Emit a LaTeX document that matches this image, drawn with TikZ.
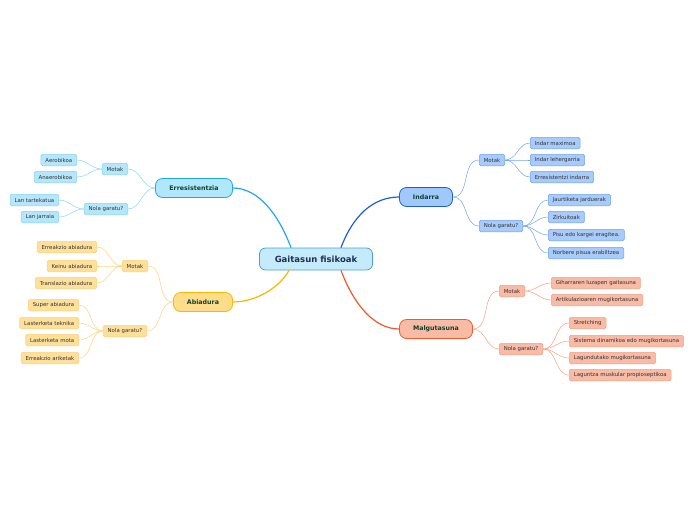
\documentclass[tikz,border=0pt]{standalone}
\usepackage{fontspec}
\setmainfont{DejaVu Sans}
\usepackage{xcolor}
\usetikzlibrary{positioning}

\definecolor{rootfill}{HTML}{C5EBFB}
\definecolor{rootline}{HTML}{4A9FD8}
\definecolor{roottext}{HTML}{1B2F55}
\definecolor{topictext}{HTML}{11402F}
\definecolor{leaftext}{HTML}{333333}
\definecolor{indfill}{HTML}{A0C8FA}
\definecolor{indline}{HTML}{1E5FCE}
\definecolor{indlfill}{HTML}{A8CBFB}
\definecolor{indlline}{HTML}{6FA3F0}
\definecolor{errfill}{HTML}{B0E7FB}
\definecolor{errline}{HTML}{1FA8EA}
\definecolor{errlfill}{HTML}{B5E6FB}
\definecolor{errlline}{HTML}{86D3F6}
\definecolor{abifill}{HTML}{FEDD8A}
\definecolor{abiline}{HTML}{F6B800}
\definecolor{abilfill}{HTML}{FEE09A}
\definecolor{abilline}{HTML}{FCD27A}
\definecolor{malfill}{HTML}{F9BBA6}
\definecolor{malline}{HTML}{EE5A2B}
\definecolor{mallfill}{HTML}{F9BBA6}
\definecolor{mallline}{HTML}{F4A084}

\begin{document}
\begin{tikzpicture}[
  x=1pt, y=-1pt,
  font=\fontsize{5.4}{6.5}\selectfont,
  root/.style={draw=rootline, fill=rootfill, line width=0.8pt, rounded corners=6pt,
               minimum width=113pt, minimum height=22pt, text=roottext,
               font=\fontsize{8.5}{10}\selectfont\bfseries},
  topic/.style={line width=0.8pt, rounded corners=7pt, minimum height=19pt,
                text=topictext, font=\fontsize{6.3}{8}\selectfont\bfseries},
  leaf/.style={line width=0.5pt, rounded corners=1.5pt, minimum height=11.5pt,
               inner xsep=4.5pt, inner ysep=1pt, text=leaftext},
  ind/.style={draw=indline, fill=indfill},
  err/.style={draw=errline, fill=errfill},
  abi/.style={draw=abiline, fill=abifill},
  mal/.style={draw=malline, fill=malfill},
  indl/.style={leaf, draw=indlline, fill=indlfill},
  errl/.style={leaf, draw=errlline, fill=errlfill},
  abil/.style={leaf, draw=abilline, fill=abilfill},
  mall/.style={leaf, draw=mallline, fill=mallfill},
  indc/.style={draw=indlline, line width=0.5pt},
  errc/.style={draw=errlline, line width=0.5pt},
  abic/.style={draw=abilline, line width=0.5pt},
  malc/.style={draw=mallline, line width=0.5pt}
]
\useasboundingbox (0,0) rectangle (696,520);

% centre and main topics
\node[root] (root) at (316,259) {Gaitasun fisikoak};
\node[topic, ind, minimum width=53pt] (ind) at (426,197) {Indarra};
\node[topic, err, minimum width=77pt] (err) at (194,188) {Erresistentzia};
\node[topic, abi, minimum width=59pt] (abi) at (203,302) {Abiadura};
\node[topic, mal, minimum width=73pt] (mal) at (436,329) {Malgutasuna};

\draw[indline, line width=1.2pt] ([xshift=25pt]root.north) .. controls +(12,-32) and +(-26,0) .. (ind.west);
\draw[errline, line width=1.2pt] ([xshift=-25pt]root.north) .. controls +(-12,-32) and +(26,0) .. (err.east);
\draw[abiline, line width=1.2pt] ([xshift=-27pt]root.south) .. controls +(-10,18) and +(22,0) .. (abi.east);
\draw[malline, line width=1.2pt] ([xshift=25pt]root.south) .. controls +(12,32) and +(-26,0) .. (mal.west);

% Indarra
\node[indl, anchor=west] (ind-mot)  at (479,160) {Motak};
\node[indl, anchor=west] (ind-nola) at (479,226) {Nola garatu?};
\node[indl, anchor=west] (ind-m1) at (530,143) {Indar maximoa};
\node[indl, anchor=west] (ind-m2) at (530,160) {Indar lehergarria};
\node[indl, anchor=west] (ind-m3) at (530,177) {Erresistentzi indarra};
\node[indl, anchor=west] (ind-n1) at (548,200) {Jaurtiketa jarduerak};
\node[indl, anchor=west] (ind-n2) at (548,217) {Zirkuitoak};
\node[indl, anchor=west] (ind-n3) at (548,235) {Pisu edo kargei eragitea.};
\node[indl, anchor=west] (ind-n4) at (548,253) {Norbere pisua erabiltzea};

\draw[indc] (ind.east) to[out=0, in=180] (ind-mot.west);
\draw[indc] (ind.east) to[out=0, in=180] (ind-nola.west);
\draw[indc] (ind-mot.east) to[out=0, in=180] (ind-m1.west);
\draw[indc] (ind-mot.east) to[out=0, in=180] (ind-m2.west);
\draw[indc] (ind-mot.east) to[out=0, in=180] (ind-m3.west);
\draw[indc] (ind-nola.east) to[out=0, in=180] (ind-n1.west);
\draw[indc] (ind-nola.east) to[out=0, in=180] (ind-n2.west);
\draw[indc] (ind-nola.east) to[out=0, in=180] (ind-n3.west);
\draw[indc] (ind-nola.east) to[out=0, in=180] (ind-n4.west);

% Erresistentzia
\node[errl, anchor=east] (err-mot)  at (128,169) {Motak};
\node[errl, anchor=east] (err-nola) at (128,209) {Nola garatu?};
\node[errl, anchor=east] (err-m1) at (77,160) {Aerobikoa};
\node[errl, anchor=east] (err-m2) at (77,177) {Anaerobikoa};
\node[errl, anchor=east] (err-n1) at (59,200) {Lan tartekatua};
\node[errl, anchor=east] (err-n2) at (59,217) {Lan jarraia};

\draw[errc] (err.west) to[out=180, in=0] (err-mot.east);
\draw[errc] (err.west) to[out=180, in=0] (err-nola.east);
\draw[errc] (err-mot.west) to[out=180, in=0] (err-m1.east);
\draw[errc] (err-mot.west) to[out=180, in=0] (err-m2.east);
\draw[errc] (err-nola.west) to[out=180, in=0] (err-n1.east);
\draw[errc] (err-nola.west) to[out=180, in=0] (err-n2.east);

% Abiadura
\node[abil, anchor=east] (abi-mot)  at (148,266) {Motak};
\node[abil, anchor=east] (abi-nola) at (147,331) {Nola garatu?};
\node[abil, anchor=east] (abi-m1) at (97,247) {Erreakzio abiadura};
\node[abil, anchor=east] (abi-m2) at (97,266) {Keinu abiadura};
\node[abil, anchor=east] (abi-m3) at (97,283) {Translazio abiadura};
\node[abil, anchor=east] (abi-n1) at (79,305) {Super abiadura};
\node[abil, anchor=east] (abi-n2) at (79,323) {Lasterketa teknika};
\node[abil, anchor=east] (abi-n3) at (79,340) {Lasterketa mota};
\node[abil, anchor=east] (abi-n4) at (79,358) {Erreakzio ariketak};

\draw[abic] (abi.west) to[out=180, in=0] (abi-mot.east);
\draw[abic] (abi.west) to[out=180, in=0] (abi-nola.east);
\draw[abic] (abi-mot.west) to[out=180, in=0] (abi-m1.east);
\draw[abic] (abi-mot.west) to[out=180, in=0] (abi-m2.east);
\draw[abic] (abi-mot.west) to[out=180, in=0] (abi-m3.east);
\draw[abic] (abi-nola.west) to[out=180, in=0] (abi-n1.east);
\draw[abic] (abi-nola.west) to[out=180, in=0] (abi-n2.east);
\draw[abic] (abi-nola.west) to[out=180, in=0] (abi-n3.east);
\draw[abic] (abi-nola.west) to[out=180, in=0] (abi-n4.east);

% Malgutasuna
\node[mall, anchor=west] (mal-mot)  at (499,291) {Motak};
\node[mall, anchor=west] (mal-nola) at (499,349) {Nola garatu?};
\node[mall, anchor=west] (mal-m1) at (551,283) {Giharraren luzapen gaitasuna};
\node[mall, anchor=west] (mal-m2) at (551,300) {Artikulazioaren mugikortasuna};
\node[mall, anchor=west] (mal-n1) at (569,323) {Stretching};
\node[mall, anchor=west] (mal-n2) at (569,341) {Sistema dinamikoa edo mugikortasuna};
\node[mall, anchor=west] (mal-n3) at (569,358) {Lagundutako mugikortasuna};
\node[mall, anchor=west] (mal-n4) at (569,375) {Laguntza muskular propioseptikoa};

\draw[malc] (mal.east) to[out=0, in=180] (mal-mot.west);
\draw[malc] (mal.east) to[out=0, in=180] (mal-nola.west);
\draw[malc] (mal-mot.east) to[out=0, in=180] (mal-m1.west);
\draw[malc] (mal-mot.east) to[out=0, in=180] (mal-m2.west);
\draw[malc] (mal-nola.east) to[out=0, in=180] (mal-n1.west);
\draw[malc] (mal-nola.east) to[out=0, in=180] (mal-n2.west);
\draw[malc] (mal-nola.east) to[out=0, in=180] (mal-n3.west);
\draw[malc] (mal-nola.east) to[out=0, in=180] (mal-n4.west);
\end{tikzpicture}
\end{document}
